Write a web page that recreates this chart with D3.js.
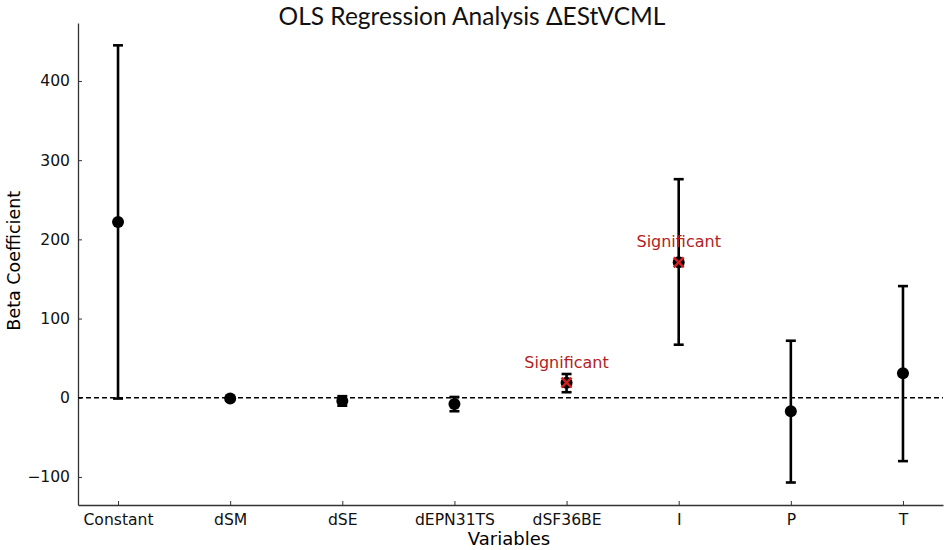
<!DOCTYPE html>
<html>
<head>
<meta charset="utf-8">
<script src="https://cdn.jsdelivr.net/npm/d3@7"></script>
<style>
  body { margin: 0; background: #fff; }
  svg text { font-family: "DejaVu Sans", sans-serif; }
</style>
</head>
<body>
<div id="chart"></div>
<script>
// OLS regression coefficients with confidence intervals
const variables = ["Constant", "dSM", "dSE", "dEPN31TS", "dSF36BE", "I", "P", "T"];
const coefs     = [222, -1, -4, -8, 19, 171, -17, 31];
const lowerCI   = [-1, -3, -10, -17, 7, 67, -107, -80];
const upperCI   = [445, 1, 2, 1, 30, 276, 72, 141];
const significant = [false, false, false, false, true, true, false, false];
const yTicks = [-100, 0, 100, 200, 300, 400];

const width = 945, height = 550;
const margin = {top: 23, right: 2, bottom: 45, left: 78};

const svg = d3.select("#chart")
  .append("svg")
    .attr("width", width)
    .attr("height", height);

const x = d3.scalePoint()
  .domain(variables)
  .range([margin.left, width - margin.right])
  .padding(0.357);

const y = d3.scaleLinear()
  .domain([-135.4, 473.2])
  .range([height - margin.bottom, margin.top]);

// axes with inward ticks
const yAxis = svg.append("g")
  .attr("transform", `translate(${margin.left},0)`)
  .call(d3.axisLeft(y).tickValues(yTicks).tickSizeInner(-4).tickSizeOuter(0).tickPadding(8)
    .tickFormat(d => d < 0 ? "\u2212" + Math.abs(d) : d));

const xAxis = svg.append("g")
  .attr("transform", `translate(0,${height - margin.bottom})`)
  .call(d3.axisBottom(x).tickSizeInner(-4).tickSizeOuter(0).tickPadding(9));

[xAxis, yAxis].forEach(g => {
  g.select(".domain").attr("stroke", "#333").attr("stroke-width", 1.3);
  g.selectAll(".tick line").attr("stroke", "#333");
  g.selectAll(".tick text").attr("font-size", 15.6).attr("fill", "#111");
});

// zero reference line
svg.append("line")
  .attr("x1", margin.left).attr("x2", width - margin.right)
  .attr("y1", y(0)).attr("y2", y(0))
  .attr("stroke", "#000")
  .attr("stroke-width", 1.3)
  .attr("stroke-dasharray", "5,3");

const rows = variables.map((v, i) => ({
  v, coef: coefs[i], lo: lowerCI[i], hi: upperCI[i], sig: significant[i]
}));

const cap = 5;
const g = svg.append("g");

g.selectAll(".err").data(rows).join("line")
  .attr("x1", d => x(d.v)).attr("x2", d => x(d.v))
  .attr("y1", d => y(d.lo)).attr("y2", d => y(d.hi))
  .attr("stroke", "#000").attr("stroke-width", 2.6);

g.selectAll(".capHi").data(rows).join("line")
  .attr("x1", d => x(d.v) - cap).attr("x2", d => x(d.v) + cap)
  .attr("y1", d => y(d.hi)).attr("y2", d => y(d.hi))
  .attr("stroke", "#000").attr("stroke-width", 2.6);

g.selectAll(".capLo").data(rows).join("line")
  .attr("x1", d => x(d.v) - cap).attr("x2", d => x(d.v) + cap)
  .attr("y1", d => y(d.lo)).attr("y2", d => y(d.lo))
  .attr("stroke", "#000").attr("stroke-width", 2.6);

g.selectAll("circle").data(rows).join("circle")
  .attr("cx", d => x(d.v)).attr("cy", d => y(d.coef))
  .attr("r", 6).attr("fill", "#000");

// significant markers
const sig = rows.filter(d => d.sig);
const xs = 5;
sig.forEach(d => {
  const cx = x(d.v), cy = y(d.coef);
  svg.append("path")
    .attr("d", `M${cx - xs},${cy - xs}L${cx + xs},${cy + xs}M${cx - xs},${cy + xs}L${cx + xs},${cy - xs}`)
    .attr("stroke", "#d21f1f").attr("stroke-width", 2.4);
  svg.append("text")
    .attr("x", cx).attr("y", cy - 15)
    .attr("text-anchor", "middle")
    .attr("font-size", 16)
    .attr("fill", "#b22222")
    .text("Significant");
});

// titles
svg.append("text")
  .attr("x", 472).attr("y", 25)
  .attr("text-anchor", "middle")
  .attr("font-size", 24.5)
  .style("font-family", "Lato, 'Open Sans', sans-serif")
  .attr("fill", "#111")
  .text("OLS Regression Analysis \u0394EStVCML");

svg.append("text")
  .attr("x", 509).attr("y", 545)
  .attr("text-anchor", "middle")
  .attr("font-size", 18)
  .text("Variables");

svg.append("text")
  .attr("transform", `translate(20,${y(173)}) rotate(-90)`)
  .attr("text-anchor", "middle")
  .attr("font-size", 17.5)
  .text("Beta Coefficient");
</script>
</body>
</html>
